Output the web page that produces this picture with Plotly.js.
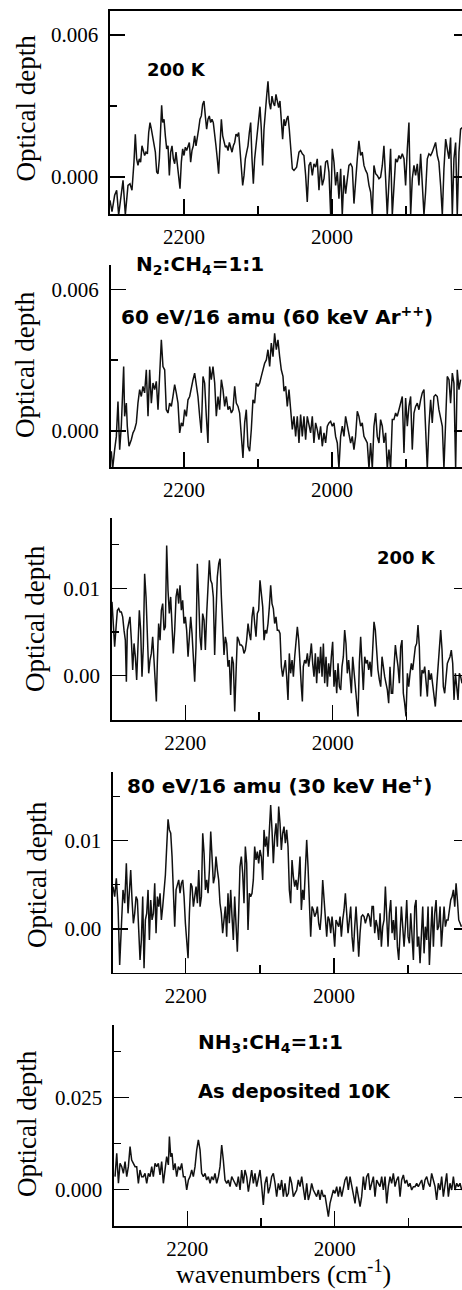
<!DOCTYPE html>
<html><head><meta charset="utf-8">
<script src="https://cdn.plot.ly/plotly-3.0.1.min.js"></script>
<style>html,body{margin:0;padding:0;background:#fff}#chart{width:462px;height:1290px}</style>
</head><body><div id="chart"></div>
<script>
// ---------- Panel 1: 200 K (N2:CH4 irradiated) ----------
const wn1 = [
2300.0,2297.3,2293.7,2291.0,2288.3,2284.7,2282.4,2279.3,2275.7,2273.0,
2270.3,2267.6,2265.8,2264.0,2262.2,2260.4,2258.6,2256.8,2255.0,2253.2,
2251.4,2249.5,2247.7,2245.9,2244.1,2242.3,2240.5,2238.7,2236.9,2235.1,
2233.3,2231.5,2230.2,2228.8,2227.0,2225.2,2223.4,2221.6,2219.8,2218.0,
2216.2,2214.4,2212.6,2210.8,2209.0,2207.2,2205.4,2203.6,2201.8,2200.0,
2198.2,2196.4,2194.6,2192.8,2191.0,2189.2,2187.4,2185.6,2183.8,2182.0,
2180.2,2178.4,2176.6,2174.8,2173.0,2171.2,2169.4,2167.6,2165.8,2164.0,
2162.2,2160.4,2158.6,2156.8,2155.0,2153.2,2151.4,2149.5,2147.7,2145.9,
2144.1,2142.3,2140.5,2138.7,2136.9,2135.1,2133.3,2131.5,2129.7,2127.9,
2126.1,2124.3,2122.5,2120.7,2118.9,2117.1,2115.3,2113.5,2111.7,2109.9,
2108.1,2106.3,2104.5,2102.7,2100.9,2099.1,2097.3,2095.5,2093.7,2091.9,
2090.1,2088.3,2086.5,2084.7,2082.9,2081.1,2079.3,2077.5,2075.7,2073.9,
2072.1,2070.3,2068.5,2066.7,2064.9,2063.1,2061.3,
2059.5,2057.7,2055.9,2053.6,2051.4,2047.8,2044.6,2042.4,2040.1,2037.9,
2035.6,2033.4,2031.1,2028.9,2026.6,2024.4,2022.1,2019.9,2017.6,2015.4,
2013.1,2010.8,2008.6,2006.3,2004.1,2001.8,1999.6,1997.3,1995.1,1992.8,
1990.6,1988.3,1986.1,1983.8,1981.6,1979.3,1977.1,1974.8,1972.6,1970.3,
1968.1,1965.8,1963.6,1961.3,1959.1,1956.8,1954.5,1952.3,1950.0,1947.8,
1945.5,1943.3,1941.0,1938.8,1936.5,1934.3,1932.0,1929.8,1927.5,1925.3,
1923.0,1920.8,1918.5,1916.3,1914.0,1911.8,1909.5,1907.3,1905.0,1902.7,
1900.5,1898.2,1896.0,1893.7,1891.5,1889.2,1887.0,1884.7,1882.5,1880.2,
1878.0,1875.7,1873.5,1871.2,1869.0,1866.7,1864.5,1862.2,1860.0,1857.7,
1855.5,1853.2,1850.9,1848.7,1846.4,1844.2,1841.9,1839.7,1837.4,1835.2,
1832.9,1830.7,1828.4,1826.2,1823.9];
const od1 = [
-0.98e-3,-1.46e-3,-0.77e-3,-0.56e-3,-1.60e-3,-0.63e-3,-0.14e-3,-1.60e-3,-0.35e-3,-0.28e-3,
-0.56e-3,0.63e-3,1.81e-3,0.77e-3,0.49e-3,0.77e-3,0.63e-3,1.32e-3,1.12e-3,0.91e-3,
1.05e-3,0.98e-3,1.88e-3,2.30e-3,2.02e-3,1.67e-3,1.32e-3,1.05e-3,0.21e-3,0.14e-3,
0.77e-3,2.58e-3,3.03e-3,2.30e-3,2.44e-3,1.74e-3,1.19e-3,1.32e-3,0.07e-3,1.05e-3,
1.32e-3,0.77e-3,0.56e-3,1.05e-3,0.49e-3,0.07e-3,-0.49e-3,0.63e-3,1.19e-3,0.91e-3,
1.26e-3,1.12e-3,1.32e-3,1.46e-3,0.63e-3,1.12e-3,1.32e-3,1.74e-3,1.32e-3,1.60e-3,
2.02e-3,2.44e-3,2.58e-3,3.07e-3,3.21e-3,2.58e-3,2.02e-3,2.44e-3,2.58e-3,2.30e-3,
2.44e-3,2.30e-3,1.88e-3,1.32e-3,0.77e-3,0.14e-3,1.32e-3,2.44e-3,1.74e-3,1.46e-3,
1.26e-3,1.32e-3,1.12e-3,1.46e-3,1.26e-3,1.05e-3,1.32e-3,1.46e-3,1.81e-3,1.74e-3,
1.88e-3,1.05e-3,0.07e-3,-0.35e-3,0.07e-3,0.77e-3,1.05e-3,1.32e-3,1.88e-3,2.30e-3,
0.77e-3,-0.28e-3,0.77e-3,1.32e-3,1.88e-3,2.16e-3,2.97e-3,2.02e-3,0.49e-3,2.02e-3,
2.58e-3,3.42e-3,4.04e-3,3.14e-3,2.86e-3,3.42e-3,3.14e-3,3.00e-3,3.49e-3,3.14e-3,
2.93e-3,3.21e-3,2.58e-3,1.60e-3,2.44e-3,2.16e-3,2.44e-3,
2.58e-3,2.02e-3,1.05e-3,0.35e-3,0.28e-3,0.42e-3,1.05e-3,1.12e-3,0.98e-3,0.91e-3,
0.07e-3,-1.05e-3,0.49e-3,0.63e-3,0.07e-3,0.56e-3,0.42e-3,0.77e-3,-0.56e-3,0.49e-3,
-0.35e-3,-0.07e-3,0.63e-3,0.70e-3,0.21e-3,-1.60e-3,1.19e-3,0.63e-3,-0.35e-3,0.21e-3,
-0.91e-3,0.35e-3,-1.60e-3,0.07e-3,-0.70e-3,0.07e-3,0.49e-3,0.56e-3,0.42e-3,-1.12e-3,
-0.07e-3,0.77e-3,1.53e-3,0.91e-3,1.05e-3,0.49e-3,0.28e-3,0.14e-3,-0.35e-3,-0.63e-3,
-1.60e-3,0.49e-3,0.14e-3,0.07e-3,-0.07e-3,0.00e-3,0.49e-3,1.32e-3,-0.07e-3,-1.60e-3,
-0.21e-3,1.19e-3,-1.60e-3,-0.35e-3,0.77e-3,0.63e-3,0.91e-3,0.77e-3,0.98e-3,0.77e-3,
-0.35e-3,1.19e-3,2.30e-3,-1.60e-3,-0.07e-3,0.49e-3,0.07e-3,0.56e-3,-0.35e-3,0.98e-3,
-0.07e-3,-1.60e-3,-0.63e-3,0.77e-3,0.98e-3,0.91e-3,1.05e-3,1.32e-3,1.46e-3,0.91e-3,
0.63e-3,-0.35e-3,-1.60e-3,0.35e-3,1.60e-3,1.19e-3,0.77e-3,1.67e-3,-1.60e-3,0.77e-3,
1.46e-3,-1.60e-3,1.05e-3,2.02e-3,2.09e-3];

// ---------- Panel 2: N2:CH4=1:1, 60 eV/16 amu ----------
const wn2 = [
2298.2,2296.4,2293.7,2291.4,2289.2,2286.9,2284.7,2281.5,2280.2,2277.9,
2276.6,2274.3,2271.2,2268.9,2266.7,2264.4,2262.2,2259.9,2257.7,2255.4,
2253.2,2250.9,2248.6,2246.4,2244.1,2241.9,2239.6,2237.4,2235.1,2232.9,
2230.6,2228.4,2226.1,2223.9,2221.6,2219.4,2217.1,2214.9,2212.6,2210.4,
2208.1,2205.8,2203.6,2201.4,2199.1,2196.8,2194.6,2192.3,2190.1,2187.8,
2185.6,2183.3,2181.1,2178.8,2176.6,2174.3,2172.1,2169.8,2167.6,2165.3,
2163.1,2160.8,2158.5,2156.3,2154.0,2151.8,2149.5,2147.3,2145.0,2142.8,
2140.5,2138.3,2136.0,2133.8,2131.5,2129.3,2127.0,2124.8,2122.5,2120.3,
2118.0,2115.8,2113.5,2111.3,2109.0,2106.8,2104.5,2102.3,2100.0,2097.7,
2095.5,2093.2,2091.0,2088.7,2086.5,2084.2,2082.0,2079.7,2077.5,2075.2,
2073.0,2070.7,2068.5,2066.2,
2064.9,2062.6,2060.4,2058.1,2055.9,2053.6,2051.4,2049.1,2046.9,2044.6,
2042.4,2040.1,2037.9,2035.6,2033.4,2031.1,2028.9,2026.6,2024.4,2022.1,
2019.9,2017.6,2015.4,2013.1,2010.8,2008.6,2006.3,2004.1,2001.8,1999.6,
1997.3,1995.1,1992.8,1990.6,1988.3,1986.1,1983.8,1981.6,1979.3,1977.1,
1974.8,1972.6,1970.3,1968.1,1965.8,1963.6,1961.3,1959.1,1956.8,1954.5,
1952.3,1950.0,1947.8,1945.5,1943.3,1941.0,1938.8,1936.5,1934.3,1932.0,
1929.8,1927.5,1925.3,1923.0,1920.8,1918.5,1916.3,1914.0,1911.8,1909.5,
1907.3,1905.0,1902.7,1900.5,1898.2,1896.0,1893.7,1891.5,1889.2,1887.0,
1884.7,1882.5,1880.2,1878.0,1875.7,1873.5,1871.2,1869.0,1866.7,1864.5,
1862.2,1860.0,1857.7,1855.5,1853.2,1850.9,1848.7,1846.4,1844.2,1841.9,
1839.7,1837.4,1835.2,1832.9,1830.7,1828.4,1826.2];
const od2 = [
-0.86e-3,-1.60e-3,-0.79e-3,-0.23e-3,1.25e-3,-0.79e-3,0.20e-3,2.73e-3,0.62e-3,1.18e-3,
0.20e-3,-0.65e-3,-0.37e-3,-0.08e-3,0.06e-3,0.34e-3,1.18e-3,1.75e-3,1.46e-3,1.89e-3,
1.61e-3,2.59e-3,0.62e-3,2.59e-3,1.18e-3,2.03e-3,1.75e-3,2.10e-3,0.90e-3,2.45e-3,
3.86e-3,2.73e-3,2.59e-3,0.90e-3,0.76e-3,1.18e-3,1.04e-3,1.46e-3,1.96e-3,1.61e-3,
1.18e-3,-0.08e-3,0.34e-3,0.20e-3,0.90e-3,0.62e-3,1.32e-3,1.46e-3,1.89e-3,2.17e-3,
2.45e-3,1.89e-3,1.46e-3,0.62e-3,-0.08e-3,2.31e-3,2.03e-3,0.62e-3,-0.51e-3,2.73e-3,
2.17e-3,2.73e-3,2.03e-3,0.62e-3,1.46e-3,0.90e-3,2.17e-3,1.75e-3,1.04e-3,1.46e-3,
0.90e-3,1.04e-3,0.76e-3,0.90e-3,1.89e-3,1.18e-3,1.04e-3,0.76e-3,-0.23e-3,-1.14e-3,
0.34e-3,0.90e-3,-0.65e-3,-0.86e-3,0.06e-3,1.32e-3,1.18e-3,2.03e-3,1.89e-3,2.03e-3,
2.31e-3,2.59e-3,2.87e-3,3.01e-3,3.44e-3,2.73e-3,3.72e-3,3.15e-3,4.14e-3,3.44e-3,
3.86e-3,3.15e-3,2.59e-3,2.31e-3,
1.68e-3,1.89e-3,1.04e-3,1.75e-3,0.90e-3,0.06e-3,0.62e-3,-0.23e-3,0.62e-3,-0.51e-3,
0.69e-3,-0.23e-3,0.62e-3,-0.37e-3,0.62e-3,0.20e-3,-0.08e-3,0.62e-3,-0.51e-3,0.34e-3,
0.06e-3,-0.37e-3,0.20e-3,-0.65e-3,-0.08e-3,-0.51e-3,0.20e-3,0.34e-3,0.41e-3,0.20e-3,
0.34e-3,-0.23e-3,-0.51e-3,-1.60e-3,-0.23e-3,0.20e-3,-0.23e-3,0.62e-3,0.20e-3,-0.23e-3,
-0.51e-3,-0.23e-3,-0.79e-3,-0.23e-3,0.83e-3,0.62e-3,0.20e-3,0.34e-3,-0.23e-3,-0.37e-3,
-0.51e-3,-1.60e-3,-0.51e-3,-1.60e-3,0.20e-3,0.76e-3,-0.23e-3,-0.51e-3,0.48e-3,0.20e-3,
-0.51e-3,-0.08e-3,-1.60e-3,-0.79e-3,-1.60e-3,0.48e-3,0.48e-3,0.76e-3,0.62e-3,0.90e-3,
1.18e-3,1.46e-3,-0.93e-3,1.39e-3,0.20e-3,1.04e-3,1.46e-3,-0.79e-3,0.76e-3,1.04e-3,
1.18e-3,0.90e-3,1.32e-3,1.61e-3,1.75e-3,0.20e-3,-1.60e-3,0.20e-3,1.32e-3,0.34e-3,
1.46e-3,1.53e-3,1.46e-3,0.90e-3,0.48e-3,0.20e-3,-1.60e-3,0.90e-3,2.31e-3,2.17e-3,
1.18e-3,2.45e-3,2.03e-3,-1.60e-3,2.59e-3,1.75e-3,2.17e-3];

// ---------- Panel 3: 200 K (after 60 eV/16 amu) ----------
const wn3 = [
2299.5,2298.1,2295.9,2293.6,2292.2,2290.4,2288.6,2286.8,2285.0,2283.2,
2281.4,2280.0,2278.7,2276.9,2275.1,2273.2,2271.4,2269.6,2267.8,2266.0,
2264.2,2262.4,2260.6,2258.8,2257.0,2255.2,2253.3,2251.5,2249.7,2247.9,
2246.1,2244.3,2242.5,2240.7,2239.3,2238.0,2236.2,2234.3,2232.5,2230.7,
2228.9,2227.1,2225.3,2223.5,2221.7,2219.9,2218.1,2216.3,2214.4,2212.6,
2210.8,2209.0,2207.2,2205.4,2203.6,2201.8,2200.0,2198.2,2196.3,2194.5,
2192.7,2190.9,2189.1,2187.3,2185.5,2183.7,2181.9,2180.1,2178.3,2176.5,
2174.6,2172.8,2171.0,2169.2,2167.4,2165.6,2163.8,2162.0,2160.2,2158.4,
2156.6,2154.7,2152.9,2151.1,2149.3,2147.5,2145.7,2143.9,2142.1,2140.3,
2138.5,2136.7,2134.8,2133.0,2131.2,2129.4,2127.6,2125.8,2124.0,2122.2,
2120.4,2118.6,2116.8,2114.9,2113.1,2111.3,2109.5,2107.7,2105.9,2104.1,
2102.3,2100.5,2098.7,2096.9,2095.0,2093.2,2091.4,2089.6,2087.8,2086.0,
2084.2,2082.4,2080.6,2078.8,2077.0,2075.2,2073.3,2071.5,2069.7,2067.9,
2066.1,2064.3,2062.5,2060.7,2058.9,2057.1,2055.2,2053.4,2051.6,2049.8,
2048.0,2046.2,2044.4,2042.6,2041.2,2039.9,2038.1,2036.3,2034.4,2032.6,
2030.8,2029.0,2027.2,2025.4,2023.6,2021.8,2020.0,2018.2,2016.4,2014.5,
2012.7,2010.9,2009.1,2007.3,2005.5,2003.7,2001.9,2000.1,1998.3,1996.5,
1994.6,1992.8,1991.0,1989.2,1987.4,1985.6,1983.8,1982.0,1980.2,1978.4,
1976.5,1974.7,1972.9,1971.1,1969.3,1967.5,1965.7,1963.9,1962.1,1960.3,
1958.5,1956.6,1954.8,1953.0,1951.2,1949.4,1947.6,1945.8,1944.0,1942.2,
1940.4,1938.6,1936.7,1934.9,1933.1,1931.3,1929.5,1927.7,1925.9,1924.1,
1922.3,1920.5,1918.7,1916.8,1915.0,1913.2,1911.4,1909.6,1907.8,1906.0,
1904.2,1902.4,1900.6,1898.7,1896.9,1895.1,1893.3,1891.5,1889.7,1887.9,
1886.1,1884.3,1882.5,1880.7,1878.9,1877.0,1875.2,1873.4,1871.6,1869.8,
1868.0,1866.2,1864.4,1862.6,1860.8,1859.0,1857.1,1855.3,1853.5,1851.7,
1849.9,1848.1,1846.3,1844.5,1842.7,1840.9,1839.1,1837.2,1835.4,1833.6,
1831.8,1830.0,1828.2,1826.4,1824.6];
const od3 = [
8.44e-3,6.73e-3,3.31e-3,5.97e-3,7.49e-3,7.68e-3,7.30e-3,7.30e-3,6.73e-3,5.21e-3,
4.07e-3,-0.68e-3,5.21e-3,5.97e-3,6.73e-3,4.07e-3,0.65e-3,3.69e-3,2.17e-3,-0.49e-3,
4.45e-3,7.49e-3,5.21e-3,-0.11e-3,3.31e-3,11.67e-3,9.01e-3,4.45e-3,0.27e-3,1.79e-3,
2.55e-3,4.45e-3,2.17e-3,-0.87e-3,-2.96e-3,1.41e-3,5.97e-3,4.07e-3,7.49e-3,8.25e-3,
5.21e-3,5.59e-3,14.90e-3,9.77e-3,7.11e-3,9.01e-3,6.35e-3,2.55e-3,5.21e-3,9.01e-3,
9.96e-3,8.25e-3,10.34e-3,7.49e-3,8.63e-3,5.97e-3,6.73e-3,5.21e-3,2.17e-3,5.21e-3,
6.73e-3,4.83e-3,1.41e-3,-0.68e-3,3.31e-3,12.81e-3,9.01e-3,4.45e-3,2.93e-3,7.11e-3,
6.35e-3,2.93e-3,7.11e-3,11.29e-3,13.19e-3,10.91e-3,10.53e-3,9.01e-3,2.36e-3,7.11e-3,
11.29e-3,12.81e-3,13.38e-3,9.01e-3,5.21e-3,2.36e-3,4.45e-3,3.69e-3,1.03e-3,1.79e-3,
-2.20e-3,2.17e-3,1.41e-3,-4.10e-3,0.27e-3,4.45e-3,4.07e-3,3.50e-3,3.50e-3,3.31e-3,
2.55e-3,2.93e-3,4.07e-3,5.97e-3,4.83e-3,4.07e-3,6.73e-3,7.87e-3,5.97e-3,4.45e-3,
7.11e-3,7.49e-3,10.91e-3,9.01e-3,7.87e-3,4.07e-3,5.21e-3,4.83e-3,5.97e-3,7.87e-3,
10.34e-3,8.25e-3,7.68e-3,5.97e-3,6.73e-3,5.21e-3,5.21e-3,4.83e-3,1.03e-3,-0.11e-3,
0.65e-3,1.79e-3,-0.11e-3,-2.77e-3,2.55e-3,0.27e-3,1.79e-3,-0.11e-3,2.17e-3,4.07e-3,
5.59e-3,4.07e-3,0.65e-3,-1.25e-3,-2.96e-3,1.03e-3,1.79e-3,1.41e-3,2.55e-3,1.03e-3,
2.17e-3,3.69e-3,1.41e-3,-0.11e-3,2.55e-3,-0.87e-3,2.17e-3,0.27e-3,3.31e-3,-0.11e-3,
3.69e-3,-0.87e-3,2.17e-3,-1.25e-3,1.41e-3,-0.11e-3,2.17e-3,3.88e-3,-1.25e-3,0.65e-3,
-2.01e-3,1.41e-3,-1.25e-3,-1.63e-3,1.03e-3,2.17e-3,5.21e-3,3.69e-3,0.27e-3,1.79e-3,
-0.11e-3,-2.01e-3,2.17e-3,0.65e-3,-1.25e-3,-2.39e-3,-4.67e-3,1.41e-3,4.45e-3,1.41e-3,
-1.63e-3,2.17e-3,1.41e-3,1.79e-3,0.65e-3,1.60e-3,-0.11e-3,2.93e-3,6.16e-3,5.21e-3,
2.17e-3,0.65e-3,-0.49e-3,-1.25e-3,2.17e-3,0.65e-3,-0.11e-3,-0.87e-3,-1.63e-3,-3.15e-3,
1.03e-3,-2.01e-3,-2.01e-3,1.03e-3,3.50e-3,2.17e-3,1.03e-3,-0.87e-3,3.31e-3,4.07e-3,
-2.01e-3,-3.15e-3,-4.67e-3,0.27e-3,-1.25e-3,0.27e-3,1.41e-3,0.65e-3,2.17e-3,3.31e-3,
3.69e-3,5.78e-3,3.31e-3,-2.39e-3,0.65e-3,0.27e-3,1.03e-3,-1.25e-3,-2.39e-3,0.65e-3,
-0.49e-3,0.27e-3,-1.25e-3,-2.39e-3,-3.53e-3,-1.25e-3,1.41e-3,3.69e-3,5.21e-3,2.93e-3,
-1.25e-3,-2.01e-3,-0.49e-3,1.41e-3,1.79e-3,2.17e-3,2.93e-3,1.41e-3,-2.77e-3,0.27e-3,
-1.25e-3,-2.77e-3,0.27e-3,-0.11e-3,-0.87e-3];

// ---------- Panel 4: 80 eV/16 amu (30 keV He+) ----------
const wn4 = [
2298.2,2295.9,2293.7,2291.4,2289.2,2286.9,2284.7,2282.4,2280.2,2277.9,2275.7,2274.3,
2272.5,2270.7,2268.9,2267.1,2265.3,2263.5,2261.7,2259.9,2258.1,2256.3,
2254.5,2252.7,2250.9,2249.1,2247.3,2245.5,2243.7,2241.9,2240.1,2238.3,
2236.5,2234.7,2232.9,2231.1,2229.3,2227.5,2225.7,2223.9,2222.1,2220.3,
2218.5,2216.7,2214.9,2213.1,2211.3,2209.5,2207.7,2205.9,2204.1,2202.3,
2200.5,2198.7,2196.9,2195.1,2193.3,2191.5,2189.7,2187.9,2186.1,2184.3,
2182.5,2180.7,2178.9,2177.1,2175.3,2173.5,2171.7,2169.9,2168.1,2166.3,
2164.5,2162.7,2160.9,2159.2,2157.4,2155.6,2153.8,2152.0,2150.2,2148.4,
2146.6,2144.8,2143.0,2141.2,2139.4,2137.6,2135.8,2134.0,2132.2,2130.4,
2128.6,2126.8,2125.0,2123.2,2121.4,2119.6,2117.8,2116.0,2114.2,2112.4,
2110.6,2108.8,2107.0,2105.2,2103.4,2101.6,2099.8,2098.0,2096.2,2094.4,
2092.6,2090.8,2089.0,2087.2,2085.4,2083.6,2081.8,2080.0,2078.2,2076.4,
2074.6,2072.8,2071.0,2069.2,2067.4,2065.6,2063.8,2062.0,2060.2,2058.4,
2056.6,2054.8,2053.0,2051.2,2049.4,2047.6,2045.8,2044.0,2042.2,2040.4,
2038.6,2036.8,2035.0,2033.2,2031.4,2029.6,2027.8,2026.0,2024.2,2022.4,
2020.6,2018.8,2017.0,2015.2,2013.4,2011.6,2009.8,2008.0,2006.2,2004.4,
2002.6,2000.8,1999.0,1997.2,1995.4,1993.6,1991.8,1990.0,1988.2,1986.4,
1984.6,1982.8,1981.0,1979.2,1977.4,1975.6,1973.8,1972.0,1970.2,1968.4,
1966.6,1964.8,1963.0,1961.2,1959.4,1957.6,1955.8,1954.0,1952.2,1950.4,
1948.6,1946.8,1945.0,1943.2,1941.4,1939.6,1937.8,1936.0,1934.2,1932.4,
1930.6,1928.8,1927.0,1925.2,1923.4,1921.6,1919.8,1918.0,1916.2,1914.4,
1912.6,1910.8,1909.0,1907.2,1905.4,1903.6,1901.8,1900.0,1898.2,1896.4,
1894.6,1892.8,1891.0,1889.2,1887.4,1885.6,1883.8,1882.0,1880.2,1878.4,
1876.6,1874.8,1873.0,1871.2,1869.4,1867.6,1865.8,1864.0,1862.2,1860.4,
1858.6,1856.8,1855.0,1853.2,1851.4,1849.6,1847.8,1846.0,1844.2,1842.4,
1840.6,1838.8,1837.0,1835.2,1833.4,1831.6,1829.8,1828.0];
const od4 = [
4.79e-3,3.66e-3,5.74e-3,2.53e-3,-4.08e-3,1.02e-3,4.42e-3,2.91e-3,7.43e-3,1.77e-3,4.79e-3,6.68e-3,
3.28e-3,0.64e-3,1.77e-3,3.66e-3,3.28e-3,-0.87e-3,-3.51e-3,-1.25e-3,3.66e-3,-4.45e-3,
1.02e-3,1.77e-3,4.42e-3,-1.25e-3,3.28e-3,1.02e-3,1.77e-3,5.17e-3,-0.49e-3,3.66e-3,
2.53e-3,4.04e-3,1.02e-3,2.53e-3,4.42e-3,6.11e-3,9.32e-3,12.42e-3,11.21e-3,10.83e-3,
8.19e-3,3.28e-3,0.26e-3,4.42e-3,5.17e-3,5.55e-3,4.04e-3,5.17e-3,5.55e-3,3.66e-3,
0.64e-3,-1.25e-3,-3.32e-3,1.77e-3,5.17e-3,4.79e-3,2.53e-3,3.66e-3,4.79e-3,2.91e-3,
6.68e-3,2.53e-3,3.66e-3,10.83e-3,8.57e-3,4.42e-3,5.55e-3,4.04e-3,6.68e-3,11.02e-3,
7.43e-3,5.17e-3,5.93e-3,8.19e-3,6.68e-3,5.55e-3,2.91e-3,1.77e-3,-0.49e-3,1.02e-3,
2.53e-3,-0.87e-3,4.04e-3,0.64e-3,4.42e-3,1.40e-3,-1.25e-3,3.66e-3,-0.11e-3,-2.57e-3,
1.77e-3,7.06e-3,8.19e-3,6.30e-3,2.91e-3,9.32e-3,7.43e-3,-0.11e-3,4.04e-3,3.66e-3,
4.04e-3,5.55e-3,9.32e-3,7.81e-3,8.76e-3,7.43e-3,8.94e-3,8.19e-3,5.55e-3,11.21e-3,
9.32e-3,10.45e-3,8.19e-3,11.96e-3,14.04e-3,11.21e-3,7.43e-3,10.45e-3,11.96e-3,9.32e-3,
13.85e-3,11.96e-3,8.94e-3,10.83e-3,11.59e-3,9.70e-3,11.21e-3,9.32e-3,4.42e-3,2.91e-3,
7.81e-3,5.93e-3,4.79e-3,5.55e-3,4.42e-3,5.93e-3,8.19e-3,2.15e-3,4.42e-3,3.28e-3,
7.06e-3,10.08e-3,7.06e-3,1.77e-3,-0.87e-3,2.53e-3,2.15e-3,1.40e-3,1.77e-3,2.53e-3,
0.64e-3,-0.11e-3,1.77e-3,5.55e-3,3.28e-3,1.77e-3,-0.87e-3,1.40e-3,1.02e-3,-0.49e-3,
1.40e-3,-0.11e-3,-2.00e-3,1.02e-3,0.64e-3,0.26e-3,1.40e-3,-0.87e-3,1.02e-3,2.15e-3,
4.04e-3,1.02e-3,-0.49e-3,1.02e-3,2.53e-3,-0.87e-3,-2.57e-3,0.26e-3,2.53e-3,-0.11e-3,
-3.13e-3,-0.49e-3,1.40e-3,1.59e-3,1.40e-3,0.64e-3,1.40e-3,1.77e-3,1.40e-3,0.26e-3,
2.53e-3,2.53e-3,-0.49e-3,1.02e-3,0.26e-3,-1.25e-3,1.77e-3,-2.00e-3,0.26e-3,1.02e-3,
4.79e-3,1.02e-3,-2.00e-3,1.77e-3,3.28e-3,-0.49e-3,1.02e-3,-1.25e-3,2.53e-3,-2.00e-3,
-3.51e-3,-0.49e-3,2.53e-3,0.26e-3,-2.00e-3,0.26e-3,3.28e-3,-0.87e-3,-1.62e-3,1.77e-3,
-0.87e-3,-3.51e-3,2.53e-3,3.28e-3,-2.00e-3,-0.87e-3,-3.89e-3,-1.25e-3,2.53e-3,-2.76e-3,
0.26e-3,-1.25e-3,2.53e-3,-4.08e-3,0.26e-3,2.53e-3,-2.00e-3,1.77e-3,3.28e-3,-0.11e-3,
0.26e-3,2.53e-3,-2.00e-3,1.02e-3,2.53e-3,0.26e-3,1.02e-3,1.02e-3,2.15e-3,3.28e-3,
3.66e-3,4.42e-3,2.53e-3,5.17e-3,3.28e-3,1.02e-3,0.64e-3,0.26e-3];

// ---------- Panel 5: NH3:CH4=1:1, as deposited 10 K ----------
const wn5 = [
2298.1,2295.8,2293.5,2291.3,2289.0,2286.8,2284.5,2282.2,2280.0,2277.7,
2275.5,2273.2,2270.9,2268.7,2266.4,2264.2,2261.9,2259.6,2257.4,2255.1,
2252.8,2250.6,2248.3,2246.1,2243.8,2241.5,2239.3,2237.0,2234.8,2232.5,
2230.2,2228.0,2225.7,2224.3,2222.5,2220.7,2218.9,2216.6,2214.4,2212.1,
2209.9,2207.6,2205.3,2203.1,2200.8,2198.5,2196.3,2194.0,2191.8,2189.5,
2187.2,2185.0,2182.7,2180.5,2178.2,2175.9,2173.7,2171.4,2169.1,2166.9,
2164.6,2162.4,2160.1,2157.8,2155.6,2153.3,2151.1,2148.8,2146.5,2144.3,
2142.0,2139.7,2137.5,2135.2,2133.0,2130.7,2128.4,2126.2,2123.9,2121.7,
2119.4,2117.1,2114.9,2112.6,2110.3,2108.1,2105.8,2103.6,2101.3,2099.0,
2096.8,2094.5,2092.2,2090.0,2087.7,2085.5,2083.2,2080.9,2078.7,2076.4,
2074.1,2071.9,2069.6,2067.4,2065.1,2062.8,2060.6,2058.3,2056.0,2053.8,
2051.5,2049.3,2047.0,2044.7,2042.5,2040.2,2037.9,2035.7,2033.4,2031.2,
2028.9,2026.6,2024.4,2022.1,2019.8,2017.6,2015.3,2013.1,2010.8,2008.5,
2006.3,2004.0,2001.7,1999.5,1997.2,1995.0,1992.7,1990.4,1988.2,1985.9,
1983.6,1981.4,1979.1,1976.9,1974.6,1972.3,1970.1,1967.8,1965.5,1963.3,
1961.0,1958.8,1956.5,1954.2,1952.0,1949.7,1947.4,1945.2,1942.9,1940.7,
1938.4,1936.1,1933.9,1931.6,1929.3,1927.1,1924.8,1922.6,1920.3,1918.0,
1915.8,1913.5,1911.2,1909.0,1906.7,1904.5,1902.2,1899.9,1897.7,1895.4,
1893.1,1890.9,1888.6,1886.4,1884.1,1881.8,1879.6,1877.3,1875.0,1872.8,
1870.5,1868.3,1866.0,1863.7,1861.5,1859.2,1856.9,1854.7,1852.4,1850.2,
1847.9,1845.6,1843.4,1841.1,1838.8,1836.6,1834.3,1832.1,1829.8,1827.5];
const od5 = [
3.45e-3,9.82e-3,1.64e-3,7.09e-3,6.18e-3,4.36e-3,7.54e-3,3.45e-3,6.18e-3,11.64e-3,
8.00e-3,7.09e-3,6.18e-3,6.18e-3,1.64e-3,5.27e-3,3.45e-3,3.45e-3,4.36e-3,1.64e-3,
4.36e-3,3.45e-3,6.18e-3,3.45e-3,7.09e-3,6.18e-3,7.09e-3,3.91e-3,7.54e-3,1.64e-3,
6.18e-3,8.91e-3,6.64e-3,14.36e-3,8.91e-3,9.82e-3,5.27e-3,7.09e-3,3.45e-3,6.18e-3,
5.27e-3,7.09e-3,3.45e-3,3.45e-3,-0.18e-3,2.55e-3,3.45e-3,5.27e-3,3.45e-3,6.18e-3,
10.73e-3,13.45e-3,10.73e-3,4.36e-3,3.45e-3,4.36e-3,2.55e-3,3.45e-3,1.64e-3,3.45e-3,
2.55e-3,4.36e-3,1.64e-3,3.45e-3,6.18e-3,12.09e-3,8.00e-3,2.55e-3,1.64e-3,2.55e-3,
0.73e-3,3.45e-3,2.55e-3,1.64e-3,0.73e-3,3.45e-3,-0.18e-3,5.27e-3,1.64e-3,5.27e-3,
3.45e-3,-0.64e-3,2.55e-3,5.27e-3,1.64e-3,4.36e-3,0.73e-3,2.55e-3,5.27e-3,0.73e-3,
-4.27e-3,1.64e-3,3.45e-3,-1.09e-3,0.73e-3,3.45e-3,4.36e-3,1.64e-3,-2.00e-3,1.64e-3,
-0.18e-3,2.55e-3,-2.00e-3,1.64e-3,-2.00e-3,-1.09e-3,3.45e-3,1.64e-3,-2.00e-3,-1.09e-3,
-0.18e-3,2.55e-3,0.73e-3,3.45e-3,-0.18e-3,-2.91e-3,1.64e-3,-2.91e-3,-1.09e-3,1.64e-3,
-0.18e-3,-1.09e-3,-2.00e-3,-0.18e-3,-2.91e-3,-0.18e-3,-2.00e-3,-1.55e-3,-4.73e-3,-7.45e-3,
-3.82e-3,-1.55e-3,-0.18e-3,-1.09e-3,0.73e-3,-2.00e-3,0.73e-3,-2.00e-3,-0.18e-3,2.55e-3,
3.45e-3,-0.18e-3,3.45e-3,0.73e-3,-2.00e-3,-3.82e-3,0.73e-3,-2.00e-3,-4.73e-3,-2.00e-3,
3.45e-3,-0.18e-3,3.45e-3,4.36e-3,-0.18e-3,1.64e-3,3.45e-3,-2.00e-3,2.55e-3,1.64e-3,
0.73e-3,3.45e-3,-0.18e-3,3.45e-3,-3.82e-3,0.73e-3,3.45e-3,1.64e-3,4.36e-3,0.73e-3,
2.55e-3,3.45e-3,-2.00e-3,2.55e-3,3.91e-3,1.64e-3,2.55e-3,0.73e-3,1.64e-3,-0.18e-3,
0.73e-3,0.73e-3,1.64e-3,0.73e-3,1.64e-3,2.55e-3,-0.18e-3,2.55e-3,3.45e-3,1.64e-3,
0.73e-3,4.36e-3,2.55e-3,0.73e-3,-2.91e-3,1.64e-3,-0.18e-3,3.45e-3,-2.00e-3,1.64e-3,
4.36e-3,-2.00e-3,1.64e-3,-0.18e-3,3.45e-3,-0.18e-3,1.64e-3,0.73e-3,1.64e-3,-0.18e-3];

// ---------- text ----------
const yTitle = 'Optical depth';
const xTitle = 'wavenumbers (cm<sup>-1</sup>)';
const xTickLabels = ['2200', '2000'];
const labels = [
  {t:'<b>200 K</b>', x:176, y:69.5, xa:'center', s:18},
  {t:'<b>N<sub>2</sub>:CH<sub>4</sub>=1:1</b>', x:134, y:265, xa:'left', s:20},
  {t:'<b>60 eV/16 amu (60 keV Ar<sup>++</sup>)</b>', x:119, y:316, xa:'left', s:20},
  {t:'<b>200 K</b>', x:406, y:557, xa:'center', s:18},
  {t:'<b>80 eV/16 amu (30 keV He<sup>+</sup>)</b>', x:125, y:785, xa:'left', s:20},
  {t:'<b>NH<sub>3</sub>:CH<sub>4</sub>=1:1</b>', x:196, y:1043, xa:'left', s:20},
  {t:'<b>As deposited 10K</b>', x:196, y:1091.5, xa:'left', s:19.5}
];

// ---------- geometry / style ----------
const W = 462, H = 1290;
const SERIF = 'Liberation Serif, Times New Roman, serif';
const SANS = 'DejaVu Sans, Verdana, sans-serif';
const panels = [
  {wn:wn1, od:od1, xr:[2300,1824.3], yr:[-0.00156,0.00701], left:110,  top:11,    bot:214,   dt:0.006, mdt:0.003,  fmt:'.3f', box:true,  yt:[25,108.5]},
  {wn:wn2, od:od2, xr:[2299.3,1824.3], yr:[-0.00154,0.00703], left:110.5, top:265,  bot:467.3, dt:0.006, mdt:0.003,  fmt:'.3f', box:false, yt:[25,365]},
  {wn:wn3, od:od3, xr:[2299.9,1824.6], yr:[-0.00507,0.01804], left:111.7, top:518,  bot:720,   dt:0.01,  mdt:0.005,  fmt:'.2f', box:false, yt:[35,619]},
  {wn:wn4, od:od4, xr:[2298.2,1827.2], yr:[-0.00495,0.0178],  left:113,  top:771.7, bot:972.7, dt:0.01,  mdt:0.005,  fmt:'.2f', box:false, yt:[37,875]},
  {wn:wn5, od:od5, xr:[2299.5,1827.1], yr:[-0.0100,0.0448],   left:114,  top:1025,  bot:1226,  dt:0.025, mdt:0.0125, fmt:'.3f', box:false, yt:[27,1124]}
];

const data = [];
const layout = {
  width: W, height: H,
  margin: {l:0, r:0, t:0, b:0},
  paper_bgcolor: '#fff', plot_bgcolor: 'rgba(0,0,0,0)',
  showlegend: false, hovermode: false,
  annotations: []
};
const tickFont = {family: SERIF, size: 21, color: '#000'};

panels.forEach((p, i) => {
  const n = i + 1;
  const xk = n === 1 ? 'xaxis' : 'xaxis' + n;
  const yk = n === 1 ? 'yaxis' : 'yaxis' + n;
  const xid = n === 1 ? 'x' : 'x' + n;
  const yid = n === 1 ? 'y' : 'y' + n;
  const rid = 'y' + (n + 5);
  const xdom = [p.left / W, 1];
  const ydom = [1 - p.bot / H, 1 - p.top / H];
  data.push({x: p.wn, y: p.od, type: 'scatter', mode: 'lines', xaxis: xid, yaxis: yid,
             line: {color: '#111', width: 1.5}, hoverinfo: 'skip'});
  data.push({x: [], y: [], type: 'scatter', mode: 'lines', xaxis: xid, yaxis: rid, hoverinfo: 'skip'});
  layout[xk] = {
    domain: xdom, range: p.xr, anchor: yid, showgrid: false, zeroline: false,
    showline: true, linecolor: '#000', linewidth: 1.6, mirror: p.box,
    ticks: 'inside', ticklen: 15, tickwidth: 1.3, tickcolor: '#000',
    tickmode: 'array', tickvals: xTickLabels.map(Number), ticktext: xTickLabels,
    minor: {tickmode: 'linear', tick0: 2000, dtick: 100, ticks: 'inside', ticklen: 8, tickwidth: 1.3, tickcolor: '#000', showgrid: false},
    tickfont: tickFont, ticklabelstandoff: 3, fixedrange: true
  };
  layout[yk] = {
    domain: ydom, range: p.yr, anchor: xid, showgrid: false, zeroline: false,
    showline: true, linecolor: '#000', linewidth: 1.6,
    ticks: 'inside', ticklen: 15, tickwidth: 1.3, tickcolor: '#000',
    tick0: 0, dtick: p.dt, tickformat: p.fmt,
    minor: {dtick: p.mdt, ticks: 'inside', ticklen: 7, tickwidth: 1.3, tickcolor: '#000', showgrid: false},
    tickfont: tickFont, ticklabelstandoff: 6, fixedrange: true
  };
  layout['yaxis' + (n + 5)] = {
    overlaying: yid, side: 'right', anchor: xid, range: p.yr,
    showgrid: false, zeroline: false, showline: false,
    ticks: 'inside', ticklen: 8, tickwidth: 1.3, tickcolor: '#000',
    tick0: 0, dtick: p.dt, showticklabels: false, fixedrange: true
  };
  layout.annotations.push({
    text: yTitle, xref: 'paper', yref: 'paper', x: p.yt[0] / W, y: 1 - p.yt[1] / H,
    xanchor: 'center', yanchor: 'middle', textangle: -90, showarrow: false,
    font: {family: SERIF, size: 27, color: '#000'}
  });
});

labels.forEach(l => {
  layout.annotations.push({
    text: l.t, xref: 'paper', yref: 'paper', x: l.x / W, y: 1 - l.y / H,
    xanchor: l.xa, yanchor: 'middle', showarrow: false,
    font: {family: SANS, size: l.s, color: '#000'}
  });
});

layout.annotations.push({
  text: xTitle, xref: 'paper', yref: 'paper', x: 283 / W, y: 1 - 1272 / H,
  xanchor: 'center', yanchor: 'middle', showarrow: false,
  font: {family: SERIF, size: 26, color: '#000'}
});

Plotly.newPlot('chart', data, layout, {displayModeBar: false, staticPlot: true});
</script>
</body></html>
